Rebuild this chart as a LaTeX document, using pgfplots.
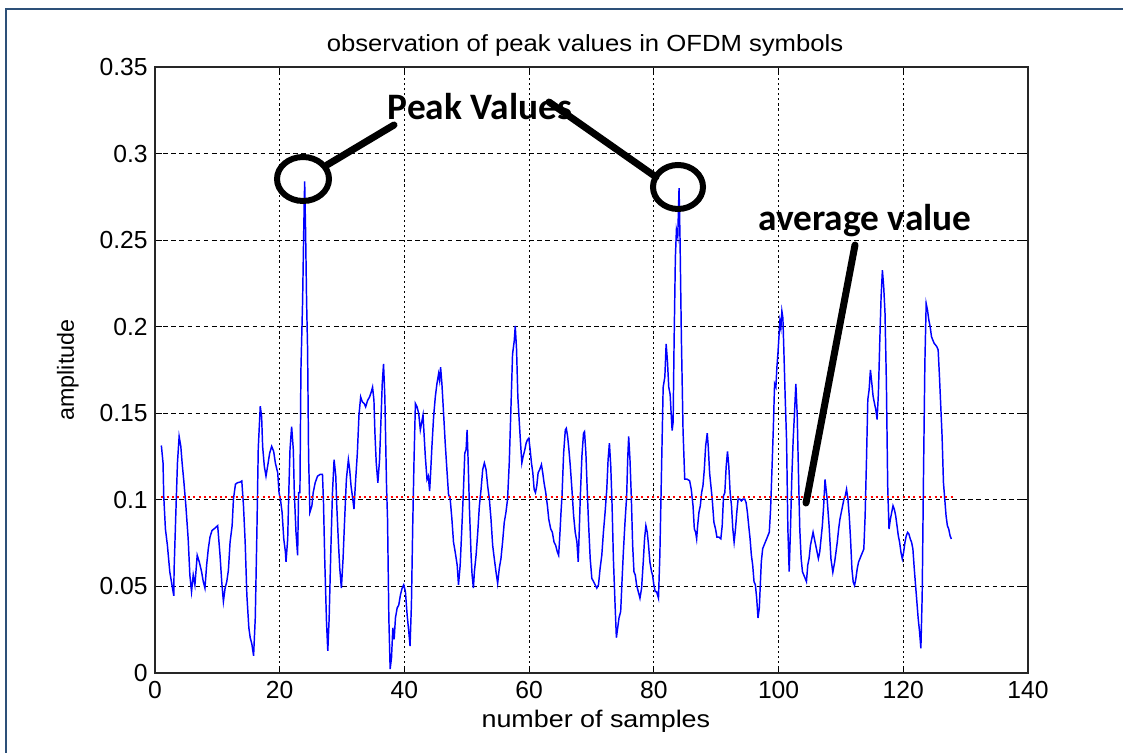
\documentclass[border=0pt]{standalone}
\usepackage{fontspec}
\setmainfont{Liberation Sans}
\newfontfamily\calibri{Carlito}
\usepackage{graphicx}
\usepackage{pgfplots}
\pgfplotsset{compat=1.18}
\definecolor{framecol}{RGB}{45,80,120}
\begin{document}
\begin{tikzpicture}[x=0.75pt,y=0.75pt]
\useasboundingbox (0,0) rectangle (1123,753);
\fill[white] (0,0) rectangle (1123,753);
\draw[framecol,line width=1.6pt] (1123,744) -- (6,744) -- (6,0);
\begin{axis}[
  at={(116.25pt,60pt)}, anchor=south west,
  scale only axis, width=654.75pt, height=454.5pt,
  xmin=0, xmax=140, ymin=0, ymax=0.35,
  xtick={0,20,40,60,80,100,120,140},
  ytick={0,0.05,0.1,0.15,0.2,0.25,0.3,0.35},
  scaled y ticks=false,
  yticklabel style={/pgf/number format/fixed, xshift=-2pt},
  /pgf/number format/assume math mode=true,
  ticklabel style={font=\fontsize{18.5}{18.5}\selectfont},
  xticklabel style={yshift=-3pt},
  tick align=inside, major tick length=5pt,
  tick style={black, line width=0.6pt},
  axis line style={black!85, line width=1pt},
  grid=major,
  x grid style={black, line width=0.8pt, dash pattern=on 1.6pt off 2.2pt},
  y grid style={black, line width=0.7pt, dash pattern=on 3.5pt off 2.6pt},
  every axis title shift=0pt,
  title={\scalebox{1.1}[1]{observation of peak values in OFDM symbols}},
  title style={at={(axis description cs:0.4926,1.0413)}, anchor=center, yshift=-2.5pt, font=\fontsize{17.5}{17.5}\selectfont},
  xlabel={\scalebox{1.12}[1]{number of samples}},
  xlabel style={at={(axis description cs:0.505,-0.0792)}, anchor=center, font=\fontsize{18}{18}\selectfont},
  ylabel={amplitude},
  ylabel style={at={(axis description cs:-0.0997,0.5)}, anchor=center, font=\fontsize{17.5}{17.5}\selectfont},
]
\addplot[blue, line width=1.1pt] coordinates {
(1.02,0.1314) (1.29,0.1213) (1.40,0.1023) (1.67,0.0832) (1.99,0.0737) (2.37,0.0585) (2.63,0.0528) (3.01,0.0446) (3.06,0.0594) (3.33,0.0909) (3.6,0.1213) (3.87,0.1366) (4.14,0.1309) (4.35,0.1213) (4.62,0.1109) (4.95,0.0966) (5.32,0.0775) (5.59,0.0566) (5.86,0.0470) (6.13,0.0566) (6.4,0.0509) (6.77,0.0680) (7.1,0.0642) (7.47,0.0585) (7.74,0.0528) (8.01,0.0490) (8.28,0.0623) (8.55,0.0718) (8.82,0.0785) (9.14,0.0823) (9.46,0.0832) (9.78,0.0842) (10.05,0.0851) (10.43,0.0680) (10.7,0.0528) (10.97,0.0413) (11.24,0.0490) (11.51,0.0528) (11.77,0.0594) (12.04,0.0756) (12.37,0.0851) (12.58,0.1004) (12.9,0.1090) (13.23,0.1099) (13.66,0.1103) (13.92,0.1109) (14.19,0.0966) (14.46,0.0756) (14.73,0.0451) (15.05,0.0261) (15.27,0.0204) (15.54,0.0166) (15.81,0.0099) (16.08,0.0318) (16.34,0.0813) (16.56,0.1299) (16.88,0.1541) (17.1,0.1480) (17.26,0.1309) (17.53,0.1194) (17.8,0.1137) (18.06,0.1194) (18.39,0.1270) (18.71,0.1309) (19.03,0.1280) (19.3,0.1213) (19.68,0.1156) (19.89,0.1042) (20.11,0.1004) (20.38,0.0928) (20.65,0.0775) (20.91,0.0699)
(21.01,0.0642) (21.28,0.0775) (21.44,0.1023) (21.65,0.1290) (21.91,0.1423) (22.18,0.1290) (22.34,0.1042) (22.61,0.0813) (22.87,0.0680) (23.03,0.1042) (23.24,0.1042) (23.40,0.1747) (23.67,0.2147) (23.85,0.2550) (24.0,0.2840) (24.15,0.2550) (24.31,0.2147) (24.47,0.1870) (24.63,0.1251) (24.84,0.0928) (25.16,0.0966) (25.37,0.1042) (25.69,0.1099) (26.06,0.1137) (26.49,0.1147) (26.86,0.1147) (27.02,0.0985) (27.23,0.0642) (27.5,0.0299) (27.71,0.0128) (27.93,0.0318) (28.19,0.0699) (28.46,0.1042) (28.72,0.1232) (28.99,0.1137) (29.15,0.0966) (29.41,0.0756) (29.63,0.0604) (29.89,0.0490) (30.16,0.0661) (30.37,0.0851) (30.69,0.1118) (31.01,0.1232) (31.22,0.1175) (31.44,0.1080) (31.65,0.1023) (31.91,0.0947) (32.18,0.1118) (32.45,0.1270) (32.71,0.1490) (32.98,0.1594) (33.24,0.1566) (33.56,0.1556) (33.78,0.1537) (34.1,0.1575) (34.41,0.1594) (34.68,0.1623) (34.89,0.1651) (35.11,0.1575) (35.27,0.1385) (35.48,0.1213) (35.74,0.1099) (36.01,0.1232) (36.22,0.1442) (36.44,0.1670) (36.65,0.1785) (36.86,0.1594) (37.13,0.1080) (37.29,0.0890) (37.5,0.0318) (37.71,0.0023) (37.93,0.0090) (38.14,0.0261) (38.35,0.0194) (38.56,0.0318) (38.83,0.0375) (39.1,0.0394) (39.36,0.0451) (39.63,0.0490) (39.89,0.0509) (40.16,0.0470) (40.43,0.0337) (40.69,0.0242) (40.9,0.0156) (41.12,0.0394) (41.33,0.0851) (41.54,0.1232) (41.76,0.1556) (42.02,0.1537) (42.29,0.1499) (42.55,0.1404)
(42.98,0.1490) (43.14,0.1385) (43.35,0.1251) (43.62,0.1118) (43.83,0.1137) (44.04,0.1051) (44.2,0.1156) (44.41,0.1309) (44.68,0.1480) (44.95,0.1594) (45.21,0.1670) (45.48,0.1728) (45.64,0.1690) (45.8,0.1766) (46.01,0.1670) (46.28,0.1499) (46.54,0.1328) (46.81,0.1175) (47.07,0.1032) (47.34,0.1004) (47.61,0.0890) (47.87,0.0756) (48.14,0.0699) (48.46,0.0623) (48.67,0.0509) (48.94,0.0623) (49.2,0.0832) (49.47,0.1061) (49.68,0.1270) (49.89,0.1290) (50.05,0.1404) (50.21,0.1232) (50.43,0.0947) (50.69,0.0680) (50.85,0.0566) (51.06,0.0490) (51.22,0.0585) (51.49,0.0680) (51.76,0.0813) (52.02,0.0966) (52.29,0.1061) (52.55,0.1175) (52.82,0.1213) (53.09,0.1175) (53.35,0.1080) (53.62,0.1004) (53.88,0.0890) (54.15,0.0737) (54.41,0.0661) (54.68,0.0585) (54.95,0.0518) (55.21,0.0604) (55.48,0.0661) (55.74,0.0756) (56.01,0.0870) (56.28,0.0928) (56.54,0.1004) (56.81,0.1213) (57.07,0.1518) (57.34,0.1842) (57.61,0.1918) (57.77,0.2004) (57.98,0.1870) (58.19,0.1594) (58.4,0.1461) (58.62,0.1328) (58.83,0.1213) (59.04,0.1251) (59.31,0.1290) (59.52,0.1328) (59.73,0.1347) (59.95,0.1356) (60.16,0.1290) (60.37,0.1213) (60.59,0.1156) (60.8,0.1061) (61.01,0.1042) (61.22,0.1080) (61.44,0.1156) (61.7,0.1175) (61.97,0.1204) (62.18,0.1156) (62.39,0.1099) (62.66,0.1042) (62.93,0.0966) (63.14,0.0890) (63.46,0.0832) (63.72,0.0813) (63.99,0.0756) (64.26,0.0737) (64.52,0.0699)
(64.73,0.0680) (64.89,0.0775) (65.11,0.0928) (65.27,0.1023) (65.53,0.1270) (65.8,0.1404) (65.96,0.1413) (66.17,0.1366) (66.38,0.1290) (66.6,0.1194) (66.86,0.1061) (67.13,0.0909) (67.39,0.0813) (67.66,0.0756) (67.87,0.0642) (68.03,0.0813) (68.19,0.1004) (68.46,0.1251) (68.72,0.1385) (68.88,0.1394) (69.1,0.1270) (69.31,0.1061) (69.52,0.0870) (69.79,0.0661) (70.05,0.0547) (70.32,0.0528) (70.59,0.0509) (70.85,0.0490) (71.12,0.0509) (71.38,0.0604) (71.65,0.0680) (71.91,0.0813) (72.18,0.0928) (72.45,0.1061) (72.66,0.1232) (72.87,0.1328) (73.09,0.1194) (73.3,0.0966) (73.51,0.0661) (73.78,0.0394) (73.99,0.0204) (74.2,0.0261) (74.41,0.0318) (74.68,0.0356) (74.89,0.0528) (75.11,0.0699) (75.37,0.0870) (75.64,0.1023) (75.8,0.1232) (75.96,0.1366) (76.17,0.1232) (76.38,0.1023) (76.6,0.0737) (76.81,0.0585) (77.02,0.0566) (77.23,0.0509) (77.5,0.0470) (77.77,0.0432) (78.03,0.0490) (78.3,0.0642) (78.51,0.0775) (78.72,0.0851) (78.94,0.0813) (79.15,0.0737) (79.36,0.0642) (79.63,0.0585) (79.79,0.0566) (80.0,0.0509) (80.21,0.0470) (80.43,0.0470) (80.74,0.0432) (80.96,0.0680) (81.22,0.1156) (81.49,0.1650) (81.76,0.1710) (81.97,0.1900) (82.18,0.1800) (82.39,0.1650) (82.61,0.1610) (82.77,0.1500) (82.93,0.1400) (83.09,0.1450) (83.24,0.1900) (83.45,0.2400) (83.62,0.2560) (83.83,0.2520) (84.04,0.2800) (84.2,0.2500) (84.41,0.1940) (84.68,0.1400) (84.95,0.1120) (85.32,0.1120) (85.74,0.1110) (86.0,0.1060)
(86.28,0.0966) (86.49,0.0832) (86.7,0.0813) (86.86,0.0775) (87.02,0.0851) (87.23,0.0928) (87.45,0.0966) (87.66,0.1042) (87.87,0.1080) (88.09,0.1175) (88.3,0.1309) (88.56,0.1385) (88.72,0.1309) (88.94,0.1156) (89.15,0.1080) (89.36,0.1004) (89.63,0.0870) (89.89,0.0832) (90.11,0.0785) (90.43,0.0785) (90.74,0.0775) (90.96,0.0851) (91.17,0.1023) (91.38,0.1042) (91.6,0.1194) (91.81,0.1280) (92.02,0.1194) (92.23,0.1042) (92.45,0.0966) (92.66,0.0832) (92.87,0.0756) (93.09,0.0832) (93.3,0.0928) (93.51,0.1004) (93.78,0.1004) (94.04,0.0994) (94.31,0.1004) (94.57,0.1004) (94.79,0.0985) (95.0,0.0928) (95.21,0.0851) (95.43,0.0775) (95.64,0.0680) (95.85,0.0623) (96.06,0.0528) (96.28,0.0509) (96.49,0.0432) (96.7,0.0318) (96.91,0.0375) (97.07,0.0509) (97.23,0.0642) (97.45,0.0718) (97.66,0.0737) (97.87,0.0756) (98.09,0.0775) (98.3,0.0794) (98.51,0.0813) (98.72,0.0947) (98.94,0.1175) (99.15,0.1404) (99.36,0.1670) (99.57,0.1651) (99.73,0.1766) (99.89,0.1842) (100.05,0.1937) (100.21,0.2032) (100.37,0.1994) (100.53,0.2090) (100.69,0.2051) (100.85,0.1861) (101.06,0.1594) (101.28,0.1347) (101.49,0.0832) (101.7,0.0585) (101.91,0.0832) (102.13,0.1137) (102.34,0.1347) (102.55,0.1499) (102.77,0.1670) (102.98,0.1499) (103.19,0.1156) (103.4,0.0832) (103.62,0.0661) (103.83,0.0585) (104.04,0.0566) (104.26,0.0547) (104.47,0.0528) (104.68,0.0623) (104.89,0.0661) (105.11,0.0737) (105.32,0.0775) (105.53,0.0813) (105.74,0.0775) (105.96,0.0737) (106.17,0.0699) (106.38,0.0661) (106.6,0.0699) (106.81,0.0775) (107.02,0.0851) (107.23,0.0966) (107.45,0.1118)
(107.8,0.1000) (108.1,0.0851) (108.4,0.0659) (108.7,0.0582) (108.99,0.0640) (109.2,0.0697) (109.41,0.0755) (109.63,0.0831) (109.84,0.0889) (110.05,0.0927) (110.27,0.0966) (110.48,0.1004) (110.69,0.1023) (110.9,0.1061) (111.12,0.1004) (111.33,0.0908) (111.54,0.0774) (111.76,0.0602) (111.97,0.0525) (112.18,0.0506) (112.39,0.0544) (112.61,0.0602) (112.82,0.0640) (113.03,0.0659) (113.24,0.0678) (113.46,0.0697) (113.67,0.0716) (113.88,0.0908) (114.1,0.1234) (114.31,0.1579) (114.52,0.1636) (114.73,0.1751) (114.95,0.1674) (115.16,0.1598) (115.37,0.1559) (115.59,0.1521) (115.8,0.1464) (116.01,0.1617) (116.22,0.1904) (116.44,0.2172) (116.65,0.2326) (116.86,0.2230) (117.07,0.2077) (117.29,0.1674) (117.5,0.1080) (117.71,0.0831) (117.93,0.0889) (118.14,0.0927) (118.35,0.0966) (118.56,0.0946) (118.78,0.0908) (118.99,0.0851) (119.2,0.0793) (119.41,0.0755) (119.63,0.0697) (119.84,0.0659) (120.05,0.0697) (120.27,0.0755) (120.48,0.0793) (120.69,0.0812) (120.9,0.0803) (121.12,0.0774) (121.33,0.0755) (121.54,0.0716) (121.76,0.0602) (121.97,0.0506) (122.18,0.0410) (122.39,0.0314) (122.61,0.0238) (122.82,0.0142) (123.03,0.0448) (123.24,0.1138) (123.46,0.1789) (123.67,0.2134) (123.88,0.2096) (124.1,0.2038) (124.31,0.2000) (124.52,0.1943) (124.73,0.1923) (124.95,0.1904) (125.16,0.1895) (125.37,0.1885) (125.59,0.1866) (125.8,0.1713) (126.01,0.1540) (126.22,0.1368) (126.44,0.1100) (126.65,0.1004) (126.86,0.0908) (127.07,0.0851) (127.29,0.0831) (127.5,0.0793) (127.71,0.0774)
};
\addplot[red, line width=1.3pt, dash pattern=on 1.6pt off 2.4pt] coordinates {(1,0.1015) (128,0.1015)};
\end{axis}
% annotations (reference pixel coordinates, y measured upward)
\draw[black, line width=4.5pt] (303,574) ellipse [x radius=19.5pt, y radius=16.5pt];
\draw[black, line width=4.5pt] (678,566) ellipse [x radius=18.75pt, y radius=16.5pt];
\draw[black, line width=5.25pt, line cap=round] (327,588) -- (394,628);
\draw[black, line width=5.25pt, line cap=round] (549,651) -- (656,576);
\draw[black, line width=5.25pt, line cap=round] (855,508) -- (806,250);
\node[font=\calibri\bfseries\fontsize{28}{28}\selectfont, inner sep=0pt] at (480,646) {Peak Values};
\node[font=\calibri\bfseries\fontsize{28}{28}\selectfont, inner sep=0pt] at (865,532) {average value};
\end{tikzpicture}
\end{document}
